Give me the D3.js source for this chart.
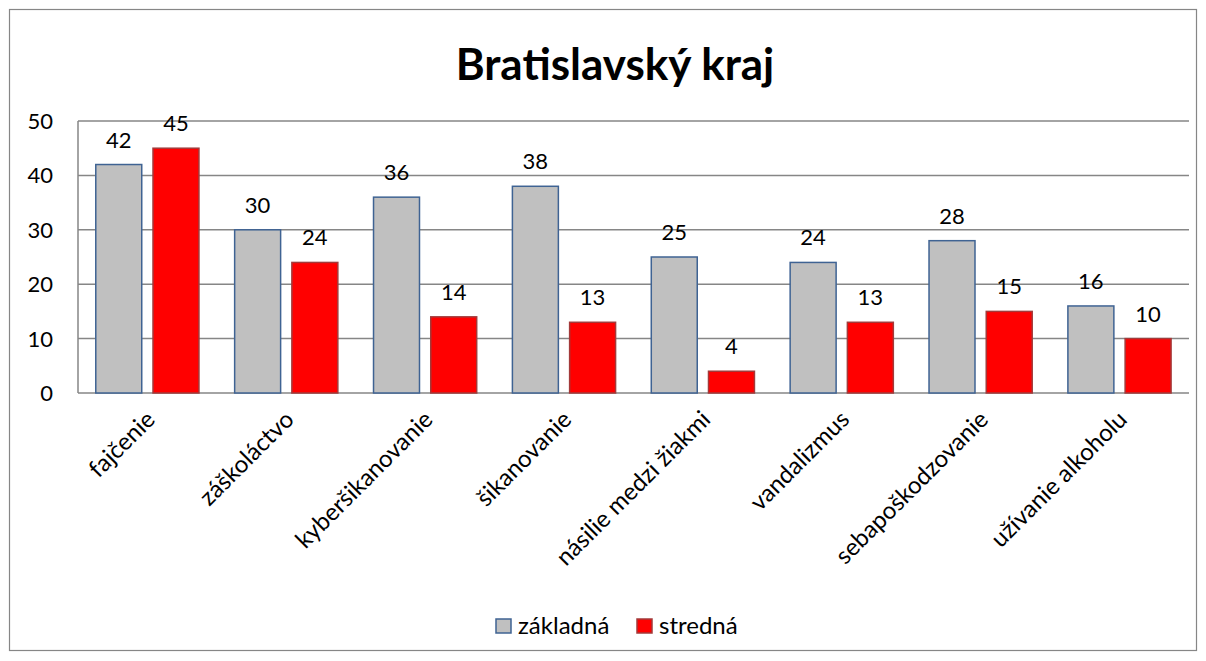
<!DOCTYPE html>
<html><head><meta charset="utf-8">
<script src="https://cdn.jsdelivr.net/npm/d3@7"></script>
<style>body{margin:0;background:#fff;} svg{display:block;}</style>
</head><body>
<svg id="chart" width="1206" height="661"></svg>
<script>
const categories = ["fajčenie","záškoláctvo","kyberšikanovanie","šikanovanie","násilie medzi žiakmi","vandalizmus","sebapoškodzovanie","užívanie alkoholu"];
const zakladna = [42,30,36,38,25,24,28,16];
const stredna = [45,24,14,13,4,13,15,10];
const seriesNames = ["základná","stredná"];
const yTicks = [0,10,20,30,40,50];

const font = "Lato, 'Open Sans', sans-serif";
const svg = d3.select("#chart");
svg.append("rect").attr("x",9.5).attr("y",9.5).attr("width",1187).attr("height",641)
  .attr("fill","#fff").attr("stroke","#868686").attr("stroke-width",1.2);

const pL=78, pR=1189, pT=121, pB=393;
const x = d3.scaleBand().domain(categories).range([pL,pR]).paddingInner(0).paddingOuter(0);
const y = d3.scaleLinear().domain([0,50]).range([pB,pT]);

svg.append("text").attr("x",615).attr("y",80).attr("text-anchor","middle")
  .attr("font-family",font).attr("font-weight","bold").attr("font-size",44).text("Bratislavský kraj");

// gridlines
svg.append("g").selectAll("line").data(yTicks).join("line")
  .attr("x1",pL).attr("x2",pR).attr("y1",d=>y(d)).attr("y2",d=>y(d))
  .attr("stroke","#868686").attr("stroke-width",1.5);
svg.append("line").attr("x1",pL).attr("x2",pL).attr("y1",pT).attr("y2",pB)
  .attr("stroke","#868686").attr("stroke-width",1.5);
svg.append("g").selectAll("text").data(yTicks).join("text")
  .attr("x",53).attr("y",d=>y(d)+8).attr("text-anchor","end")
  .attr("font-family",font).attr("font-size",22).text(d=>d);

const bw = x.bandwidth()*0.331;
const off0 = x.bandwidth()*0.128;
const off1 = off0 + bw + x.bandwidth()*0.081;
const series = [
  {vals:zakladna, fill:"#C0C0C0", stroke:"#3F6393", off:off0},
  {vals:stredna, fill:"#FF0000", stroke:"#A33A3A", off:off1}
];
series.forEach(s=>{
  const g = svg.append("g");
  g.selectAll("rect").data(categories).join("rect")
    .attr("x",(c)=>x(c)+s.off).attr("width",bw)
    .attr("y",(c,i)=>y(s.vals[i])).attr("height",(c,i)=>pB-y(s.vals[i]))
    .attr("fill",s.fill).attr("stroke",s.stroke).attr("stroke-width",1.5);
  g.selectAll("text").data(categories).join("text")
    .attr("x",(c)=>x(c)+s.off+bw/2).attr("y",(c,i)=>y(s.vals[i])-17)
    .attr("text-anchor","middle").attr("font-family",font).attr("font-size",22)
    .text((c,i)=>s.vals[i]);
});

// category labels
svg.append("g").selectAll("text").data(categories).join("text")
  .attr("transform",c=>`translate(${x(c)+x.bandwidth()/2+9},${421}) rotate(-45)`)
  .attr("text-anchor","end").attr("font-family",font).attr("font-size",24).text(c=>c);

// legend
const leg = svg.append("g");
const lx = [496, 637];
seriesNames.forEach((n,i)=>{
  leg.append("rect").attr("x",lx[i]).attr("y",619).attr("width",15).attr("height",14)
    .attr("fill",series[i].fill).attr("stroke",series[i].stroke).attr("stroke-width",1.5);
  leg.append("text").attr("x",lx[i]+22).attr("y",634).attr("font-family",font).attr("font-size",24).text(n);
});
</script>
</body></html>
